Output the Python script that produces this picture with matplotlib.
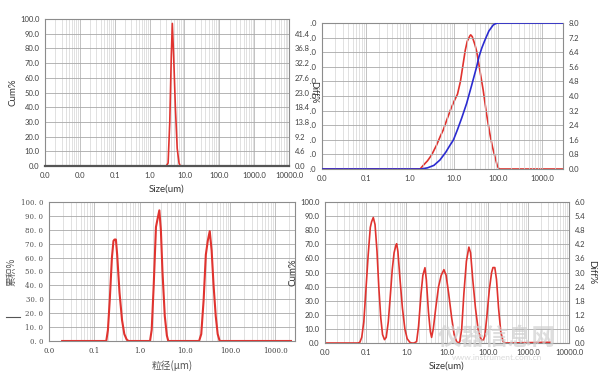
import numpy as np
import matplotlib
matplotlib.use('Agg')
import matplotlib.pyplot as plt
from matplotlib.ticker import FixedLocator, LogLocator, NullFormatter
from matplotlib.transforms import Bbox, TransformedBbox
from matplotlib.lines import Line2D

W, H = 600, 388
RED = '#e0332f'
BLUE = '#2b2bd0'

# ---- panel 1 (top left): single narrow peak ----
p1_size = [0.01, 3.0, 3.4, 3.8, 4.2, 4.5, 4.9, 5.5, 6.2, 7.0, 7.6, 3200]
p1_val = [0, 0, 2, 30, 75, 97, 75, 40, 12, 2, 0, 0]
p1_xticks = [0.001, 0.01, 0.1, 1, 10, 100, 1000, 10000]
p1_xlabels = ['0.0', '0.0', '0.1', '1.0', '10.0', '100.0', '1000.0', '10000.0']
p1_right = ['0.0', '4.6', '9.2', '13.8', '18.4', '23.0', '27.6', '32.2', '36.8', '41.4', '']

# ---- panel 2 (top right): differential + cumulative ----
p2_diff_size = [0.01, 1.7, 2.0, 2.5, 3.1, 4.0, 5.0, 5.7, 7.0, 8.5, 10, 12, 14, 16, 18,
                20, 23, 24, 26, 30, 33, 40, 46, 55, 65, 75, 85, 97, 106, 3000]
p2_diff = [0, 0, 0.2, 0.45, 0.77, 1.3, 1.85, 2.14, 2.75, 3.3, 3.7, 4.1, 4.8, 5.7, 6.5,
           7.0, 7.3, 7.35, 7.25, 6.8, 6.4, 5.2, 4.33, 3.0, 1.95, 1.2, 0.68, 0.15, 0, 0]
p2_cum_size = [0.01, 1.8, 2.5, 3.5, 4.8, 6.5, 8, 9.7, 12, 15, 19.4, 25, 32.7, 37, 43,
               50, 62, 77.6, 90, 100, 3000]
p2_cum = [0, 0, 0.8, 2.5, 6.2, 11.5, 16, 19.9, 27, 35, 45, 57, 70, 77, 83,
          88, 94.5, 98.6, 99.7, 100, 100]
p2_xticks = [0.01, 0.1, 1, 10, 100, 1000]
p2_xlabels = ['0.0', '0.1', '1.0', '10.0', '100.0', '1000.0']
p2_right = ['0.0', '0.8', '1.6', '2.4', '3.2', '4.0', '4.8', '5.6', '6.4', '7.2', '8.0']

# ---- panel 3 (bottom left): three peaks, Chinese labels ----
p3_size = [0.0195, 0.184, 0.20, 0.22, 0.245, 0.265, 0.28, 0.30, 0.32, 0.36, 0.41, 0.46, 0.52, 0.57,
           1.70, 1.85, 2.05, 2.3, 2.5, 2.73, 2.95, 3.2, 3.6, 4.0, 4.3,
           20.6, 23, 26, 29, 32, 35.4, 39, 43, 48, 53, 58.7, 2200]
p3_val = [0, 0, 8, 30, 60, 72, 73, 73, 62, 35, 15, 5, 1, 0,
          0, 8, 40, 82, 88, 94, 80, 50, 18, 4, 0,
          0, 5, 30, 62, 72, 79, 65, 40, 18, 5, 0, 0]
p3_xticks = [0.01, 0.1, 1, 10, 100, 1000]
p3_xlabels = ['0.0', '0.1', '1.0', '10.0', '100.0', '1000.0']

# ---- panel 4 (bottom right): six peaks ----
p4_size = [0.01, 0.065, 0.072, 0.08, 0.09, 0.10, 0.115, 0.13, 0.14, 0.154, 0.17, 0.19, 0.21,
           0.235, 0.26, 0.29, 0.32, 0.36, 0.40, 0.45, 0.50, 0.55, 0.578, 0.62, 0.70, 0.80,
           0.92, 1.05, 1.22, 1.35, 1.55, 1.79, 2.0, 2.3, 2.55, 2.87, 3.1, 3.5, 3.9, 4.18,
           4.6, 5.3, 6.2, 7.2, 8.4, 9.5, 11, 13, 15, 17.2, 19, 20.7, 23, 26, 30, 34.5, 38,
           43, 50, 58, 66, 71, 78, 85, 95, 110, 125, 135, 150, 165, 185, 210, 240, 270, 3400]
p4_val = [0, 0, 0.5, 4, 15, 35, 62, 82, 86, 89, 84, 65, 40,
          18, 6, 2.4, 4, 15, 32, 52, 64, 69, 70.4, 65, 45, 25,
          10, 3, 0.5, 0, 0, 1, 12, 35, 48, 53.4, 45, 22, 8, 4,
          10, 25, 40, 48, 52, 48, 35, 18, 6, 1, 0, 1, 10, 35, 58, 68, 64,
          45, 25, 10, 4, 2, 2, 5, 18, 38, 50, 53.5, 53.5, 45, 25, 8, 1, 0, 0.5]
p4_xticks = [0.01, 0.1, 1, 10, 100, 1000, 10000]
p4_xlabels = ['0.0', '0.1', '1.0', '10.0', '100.0', '1000.0', '10000.0']
p4_right = ['0.0', '0.6', '1.2', '1.8', '2.4', '3.0', '3.6', '4.2', '4.8', '5.4', '6.0']

left_ticks = list(range(0, 101, 10))
left_labels = [f'{v:.1f}' for v in left_ticks]
p3_left_labels = [f'{v:.1f}'.replace('.', '. ') for v in left_ticks]

SANS = ['Lato', 'DejaVu Sans']
CJK = ['Noto Sans CJK SC', 'DejaVu Sans']

fig = plt.figure(figsize=(W / 100, H / 100), dpi=100)
fig.patch.set_facecolor('white')


def add_px_axes(l, r, t, b):
    return fig.add_axes([l / W, 1 - b / H, (r - l) / W, (b - t) / H])


def style_axes(ax, xlim, xticks, xlabels, font, fs=5.5):
    ax.set_xscale('log')
    ax.set_xlim(*xlim)
    ax.set_ylim(0, 100)
    ax.xaxis.set_major_locator(FixedLocator(xticks))
    ax.set_xticks(xticks)
    ax.set_xticklabels(xlabels, fontsize=fs, family=font, color='#404040')
    ax.xaxis.set_minor_locator(LogLocator(base=10, subs=np.arange(2, 10), numticks=30))
    ax.xaxis.set_minor_formatter(NullFormatter())
    ax.set_yticks(left_ticks)
    ax.grid(which='major', axis='x', color='#b8b8b8', lw=0.6)
    ax.grid(which='minor', axis='x', color='#d4d4d4', lw=0.5)
    ax.grid(which='major', axis='y', color='#a8a8a8', lw=0.6)
    ax.set_axisbelow(True)
    ax.tick_params(which='both', length=0, pad=4)
    for s in ax.spines.values():
        s.set_color('#8c8c8c')
        s.set_linewidth(0.8)


# panel 1
ax1 = add_px_axes(45, 289, 19, 166)
style_axes(ax1, (0.001, 10000), p1_xticks, p1_xlabels, SANS)
ax1.set_yticklabels(left_labels, fontsize=5.5, family=SANS, color='#404040')
ax1.spines['bottom'].set_color('#555555')
ax1.spines['bottom'].set_linewidth(1.6)
ax1.plot(p1_size, p1_val, color=RED, lw=1.2)
ax1.set_ylabel('Cum%', fontsize=7, family=SANS, color='#333333', labelpad=2)
ax1.set_xlabel('Size(um)', fontsize=7, family=SANS, color='#333333', labelpad=4)
ax1r = ax1.twinx()
ax1r.set_ylim(0, 100)
ax1r.set_yticks(left_ticks)
ax1r.set_yticklabels(p1_right, fontsize=5.5, family=SANS, color='#404040')
ax1r.tick_params(length=0, pad=4)
ax1r.set_ylabel('Diff%', rotation=270, fontsize=6.5, family=SANS, color='#333333', labelpad=6)
for s in ax1r.spines.values():
    s.set_visible(False)

# panel 2
ax2 = add_px_axes(322, 563, 23, 169)
style_axes(ax2, (0.01, 3000), p2_xticks, p2_xlabels, SANS)
ax2.set_yticklabels(left_labels, fontsize=5.5, family=SANS, color='#404040')
clip = TransformedBbox(Bbox.from_extents(310 / W, 0, 1, 1), fig.transFigure)
for lab in ax2.get_yticklabels():
    lab.set_clip_box(clip)
    lab.set_clip_on(True)
ax2.plot(p2_cum_size, p2_cum, color=BLUE, lw=1.2, zorder=3)
ax2r = ax2.twinx()
ax2r.set_ylim(0, 8)
ax2r.set_yticks(np.linspace(0, 8, 11))
ax2r.set_yticklabels(p2_right, fontsize=5.5, family=SANS, color='#404040')
ax2r.tick_params(length=0, pad=4)
ax2r.plot(p2_diff_size, p2_diff, color=RED, lw=1.2, zorder=2)
ax2.set_zorder(ax2r.get_zorder() + 1)
ax2.patch.set_visible(False)
for s in ax2r.spines.values():
    s.set_visible(False)

# panel 3
ax3 = add_px_axes(49, 295, 202, 341)
style_axes(ax3, (0.01, 2700), p3_xticks, p3_xlabels, ['DejaVu Serif'], fs=5)
ax3.set_yticklabels(p3_left_labels, fontsize=5, family='DejaVu Serif', color='#505050')
ax3.plot(p3_size, p3_val, color=RED, lw=1.5)
ax3.set_ylabel('累积%', fontsize=7, family=CJK, color='#555555', labelpad=3)
ax3.set_xlabel('粒径(μm)', fontsize=7, family=CJK, color='#555555', labelpad=4)

# panel 4
ax4 = add_px_axes(325, 569, 202, 343)
style_axes(ax4, (0.01, 10000), p4_xticks, p4_xlabels, SANS)
ax4.set_yticklabels(left_labels, fontsize=5.5, family=SANS, color='#404040')
ax4.set_ylabel('Cum%', fontsize=7, family=SANS, color='#333333', labelpad=2)
ax4.set_xlabel('Size(um)', fontsize=7, family=SANS, color='#333333', labelpad=4)
ax4r = ax4.twinx()
ax4r.set_ylim(0, 6)
ax4r.set_yticks(np.linspace(0, 6, 11))
ax4r.set_yticklabels(p4_right, fontsize=5.5, family=SANS, color='#404040')
ax4r.tick_params(length=0, pad=4)
ax4r.set_ylabel('Diff%', rotation=270, fontsize=7, family=SANS, color='#333333', labelpad=8)
for s in ax4r.spines.values():
    s.set_visible(False)
ax4.plot(p4_size, p4_val, color=RED, lw=1.2)

# watermark
fig.text(497 / W, 1 - 338 / H, '仪器信息网', fontsize=17, family=CJK, color='#d0d0d0',
         alpha=0.7, ha='center', va='center', fontweight='bold')
fig.text(497 / W, 1 - 357 / H, 'www.instrument.com.cn', fontsize=6, family=SANS,
         color='#d0d0d0', alpha=0.8, ha='center', va='center')

# stray mark at left edge
fig.add_artist(Line2D([6 / W, 20 / W], [1 - 317 / H, 1 - 317 / H], color='#555555', lw=0.8))

fig.savefig('out.png', dpi=100, facecolor='white')
